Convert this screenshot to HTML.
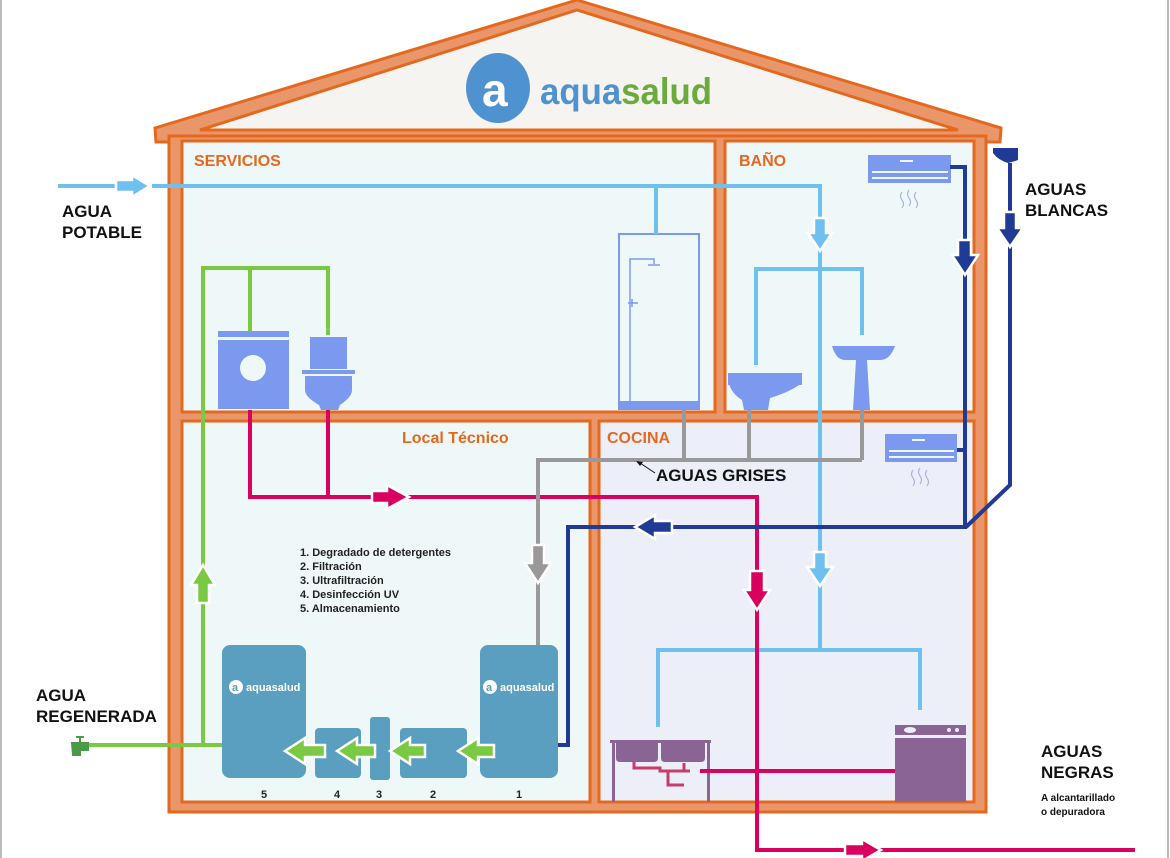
<!DOCTYPE html>
<html><head><meta charset="utf-8"><style>
html,body{margin:0;padding:0;background:#fff;}
svg{display:block}
text{font-family:"Liberation Sans",Arial,sans-serif;font-weight:bold}
</style></head><body>
<svg width="1170" height="858" viewBox="0 0 1170 858" xmlns="http://www.w3.org/2000/svg">
<rect x="0" y="0" width="1170" height="858" fill="#fff"/>
<line x1="1" y1="0" x2="1" y2="858" stroke="#bbb" stroke-width="2"/>
<line x1="1168" y1="0" x2="1168" y2="858" stroke="#bbb" stroke-width="2"/>

<!-- Roof -->
<polygon points="155,128 577,0 1001,128 1000,142 156,142" fill="#e9966a" stroke="#e4691f" stroke-width="3"/>
<polygon points="200,130 577,10 958,130" fill="#f6f4f0" stroke="#e4691f" stroke-width="3"/>
<!-- House body -->
<rect x="169" y="136" width="817" height="676" fill="#e9966a" stroke="#e4691f" stroke-width="3"/>
<rect x="182" y="141" width="533" height="271" fill="#eff8f8" stroke="#e4691f" stroke-width="3"/>
<rect x="725" y="141" width="249" height="271" fill="#eff8f8" stroke="#e4691f" stroke-width="3"/>
<rect x="182" y="421" width="408" height="381" fill="#eff8f8" stroke="#e4691f" stroke-width="3"/>
<rect x="599" y="421" width="375" height="381" fill="#eceef8" stroke="#e4691f" stroke-width="3"/>

<!-- Logo -->
<ellipse cx="498" cy="88" rx="32" ry="35" fill="#4f92d0"/>
<text x="482" y="106" font-size="46" fill="#fff" font-weight="normal">a</text>
<text x="540" y="104" font-size="37" fill="#4f92d0" font-weight="normal" textLength="172" lengthAdjust="spacingAndGlyphs">aqua<tspan fill="#6aab3c">salud</tspan></text>

<!-- Room labels -->
<g fill="#e4691f" font-size="16">
<text x="194" y="166">SERVICIOS</text>
<text x="739" y="166">BAÑO</text>
<text x="402" y="443">Local Técnico</text>
<text x="607" y="443">COCINA</text>
</g>

<!-- Fixtures -->
<g fill="#7b9aef">
<rect x="218" y="331" width="71" height="78"/>
<rect x="218" y="337" width="71" height="3" fill="#eff8f8"/>
<circle cx="253" cy="368" r="13" fill="#eff8f8"/>
<rect x="310" y="337" width="37" height="32"/>
<rect x="302" y="370" width="53" height="4"/>
<path d="M305,376 H352 V390 Q352,397 340,405 L338,410 H321 L319,405 Q305,397 305,390 Z"/>
<rect x="728" y="373" width="74" height="12"/>
<path d="M728,373 H802 V383 Q790,392 770,398 L768,410 H744 L742,400 Q729,392 728,378Z"/>
<path d="M832,346 H895 Q890,360 880,360 H845 Q836,360 832,346Z"/>
<polygon points="856,360 867,360 870,410 853,410"/>
<rect x="868" y="155" width="83" height="28"/>
<rect x="885" y="434" width="72" height="28"/>
</g>
<g stroke="#eff8f8" stroke-width="2">
<line x1="872" y1="172" x2="948" y2="172"/><line x1="872" y1="178" x2="948" y2="178"/><line x1="900" y1="161" x2="913" y2="161"/>
<line x1="889" y1="451" x2="954" y2="451"/><line x1="889" y1="457" x2="954" y2="457"/><line x1="912" y1="440" x2="925" y2="440"/>
</g>
<g fill="none" stroke="#a9b5dc" stroke-width="1.2">
<path d="M902,192 q-3,4 0,8 q3,4 0,8"/><path d="M909,190 q-3,4 0,8 q3,4 0,8"/><path d="M916,192 q-3,4 0,8 q3,4 0,8"/>
<path d="M913,470 q-3,4 0,8 q3,4 0,8"/><path d="M920,468 q-3,4 0,8 q3,4 0,8"/><path d="M927,470 q-3,4 0,8 q3,4 0,8"/>
</g>
<!-- Shower -->
<rect x="619" y="234" width="80" height="175" fill="none" stroke="#7b9aef" stroke-width="2"/>
<rect x="619" y="401" width="81" height="9" fill="#7b9aef"/>
<path d="M630,401 V259 H654 V264 M648,265 H660 M628,303 H638 M632,299 V307" fill="none" stroke="#7b9aef" stroke-width="1.5"/>
<!-- Kitchen sink -->
<g fill="#8b6496">
<rect x="610" y="740" width="101" height="3"/>
<rect x="612" y="742" width="3" height="60"/><rect x="707" y="742" width="3" height="60"/>
<path d="M616,743 H658 V758 Q658,762 654,762 H620 Q616,762 616,758Z"/>
<path d="M661,743 H705 V758 Q705,762 701,762 H665 Q661,762 661,758Z"/>
<rect x="895" y="725" width="71" height="10"/>
<rect x="895" y="738" width="71" height="64"/>
</g>
<ellipse cx="910" cy="730" rx="6" ry="3" fill="#eceef8"/><circle cx="949" cy="730" r="2" fill="#eceef8"/><circle cx="957" cy="730" r="2" fill="#eceef8"/>
<path d="M634,762 V768 H660 V771 H690 M668,771 V785 H684 M684,771 V763" fill="none" stroke="#c83c6a" stroke-width="3"/>

<!-- Light blue pipes -->
<g fill="none" stroke="#6ec1ee" stroke-width="4">
<path d="M58,186 H118 M152,186 H820 V218"/>
<path d="M656,186 V234"/>
<path d="M820,250 V553 M820,585 V650 M658,727 V650 H920 V710"/>
<path d="M756,365 V269 H862 V335"/>
</g>
<!-- Green -->
<g fill="none" stroke="#7ac943" stroke-width="4">
<path d="M203,745 V268 H328 V335 M250,268 V331"/>
<path d="M85,745 H222"/>
</g>
<path d="M72,743 H88 V750 H80 V755 H73 Z M76,737 H84 M80,737 V743" fill="#4a9a4a" stroke="#4a9a4a" stroke-width="2"/>
<!-- Magenta -->
<g fill="none" stroke="#d9005f" stroke-width="4">
<path d="M250,410 V497 H757 V850 H1135 M328,410 V497"/>
<path d="M700,771 H895"/>
</g>
<!-- Gray -->
<g fill="none" stroke="#999" stroke-width="4">
<path d="M684,410 V460 M749,410 V460 M862,410 V460 M538,645 V460 H862"/>
</g>
<!-- Dark blue -->
<g fill="none" stroke="#213a95" stroke-width="4">
<path d="M950,167 H965 V527 H568 V745 H558"/>
<path d="M957,450 H965"/>
<path d="M1010,163 V485 L966,527"/>
</g>
<path d="M993,148 H1018 V160 Q1012,162 1008,163 Q998,160 993,153Z" fill="#213a95"/>

<!-- Block arrows -->
<g stroke="#fff" stroke-width="2.5">
<polygon fill="#6ec1ee" points="116,180 132,180 132,175 150,186 132,197 132,192 116,192"/>
<polygon fill="#6ec1ee" points="814,218 826,218 826,233 832,233 820,251 808,233 814,233"/>
<polygon fill="#6ec1ee" points="814,552 826,552 826,567 833,567 820,586 807,567 814,567"/>
<polygon fill="#d9005f" points="372,491 387,491 387,485 409,497 387,509 387,503 372,503"/>
<polygon fill="#d9005f" points="750,571 764,571 764,590 770,590 757,610 744,590 750,590"/>
<polygon fill="#d9005f" points="845,844 862,844 862,839 881,850 862,861 862,856 845,856"/>
<polygon fill="#999" points="532,545 544,545 544,563 551,563 538,583 525,563 532,563"/>
<polygon fill="#213a95" points="672,521 655,521 655,515 635,527 655,539 655,533 672,533"/>
<polygon fill="#213a95" points="958,240 971,240 971,255 978,255 965,275 952,255 958,255"/>
<polygon fill="#213a95" points="1004,212 1016,212 1016,228 1023,228 1010,247 997,228 1004,228"/>
<polygon fill="#7ac943" points="197,603 209,603 209,585 215,585 203,565 191,585 197,585"/>
</g>

<!-- Tanks -->
<g fill="#5b9fc0">
<rect x="222" y="645" width="84" height="133" rx="8"/>
<rect x="480" y="645" width="78" height="133" rx="8"/>
<rect x="315" y="728" width="46" height="50" rx="4"/>
<rect x="370" y="717" width="20" height="63" rx="3"/>
<rect x="400" y="728" width="67" height="50" rx="4"/>
</g>
<g font-size="11" fill="#fff" font-weight="normal">
<circle cx="236" cy="687" r="7" fill="#fff"/><text x="232" y="691" fill="#5b9fc0" font-size="11">a</text>
<text x="246" y="691">aquasalud</text>
<circle cx="490" cy="687" r="7" fill="#fff"/><text x="486" y="691" fill="#5b9fc0" font-size="11">a</text>
<text x="500" y="691">aquasalud</text>
</g>
<g stroke="#fff" stroke-width="2.5" fill="#7ac943">
<polygon points="325,745 305,745 305,738 285,751 305,764 305,757 325,757"/>
<polygon points="375,745 357,745 357,738 337,751 357,764 357,757 375,757"/>
<polygon points="425,745 410,745 410,738 390,751 410,764 410,757 425,757"/>
<polygon points="494,745 478,745 478,738 458,751 478,764 478,757 494,757"/>
</g>
<g font-size="11" fill="#222">
<text x="261" y="798">5</text><text x="334" y="798">4</text><text x="376" y="798">3</text><text x="430" y="798">2</text><text x="516" y="798">1</text>
</g>
<g font-size="11" fill="#222">
<text x="300" y="556">1. Degradado de detergentes</text>
<text x="300" y="570">2. Filtración</text>
<text x="300" y="584">3. Ultrafiltración</text>
<text x="300" y="598">4. Desinfección UV</text>
<text x="300" y="612">5. Almacenamiento</text>
</g>

<!-- Labels -->
<g font-size="17" fill="#111">
<text x="62" y="217">AGUA</text><text x="62" y="238">POTABLE</text>
<text x="36" y="701">AGUA</text><text x="36" y="722">REGENERADA</text>
<text x="1025" y="195">AGUAS</text><text x="1025" y="216">BLANCAS</text>
<text x="1041" y="757">AGUAS</text><text x="1041" y="778">NEGRAS</text>
<text x="656" y="481">AGUAS GRISES</text>
</g>
<g font-size="10" fill="#111">
<text x="1041" y="801">A alcantarillado</text><text x="1041" y="815">o depuradora</text>
</g>
<line x1="655" y1="473" x2="640" y2="463" stroke="#111" stroke-width="1"/>
<polygon points="636,461 643,462 640,466" fill="#111"/>
</svg>
</body></html>
